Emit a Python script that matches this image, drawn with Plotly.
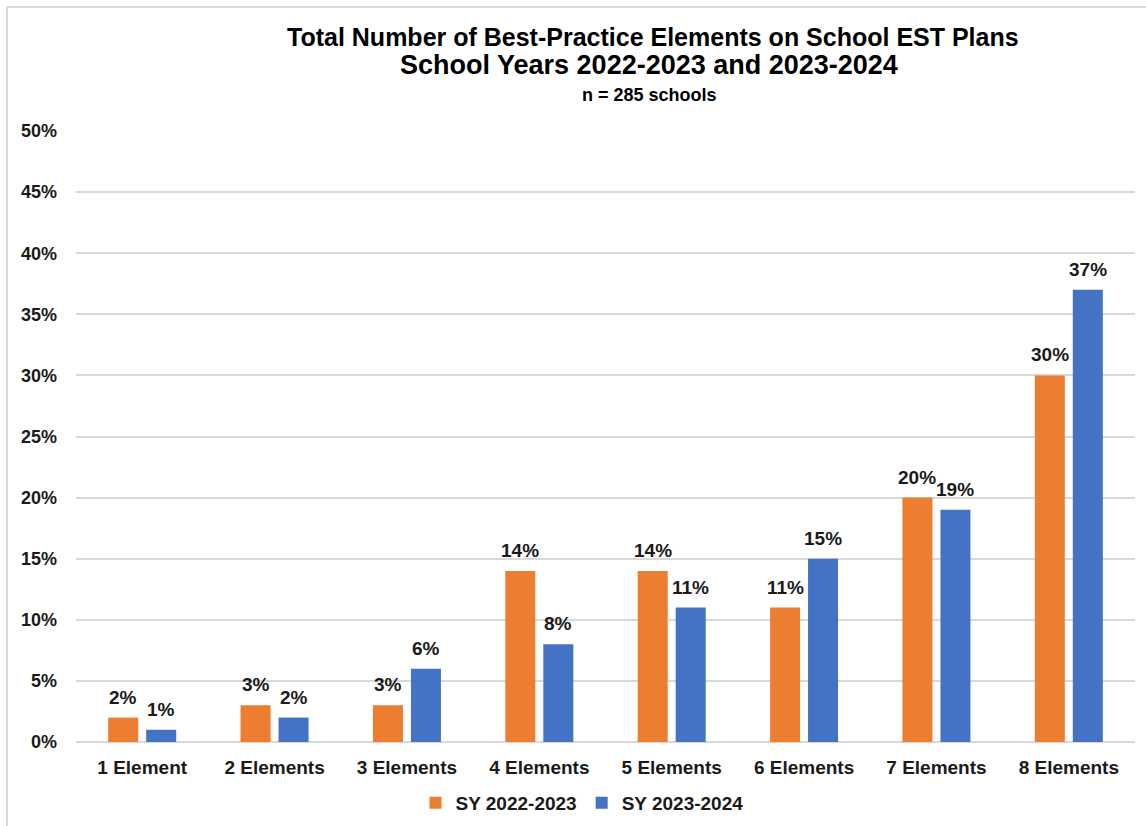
import plotly.graph_objects as go

categories = ["1 Element", "2 Elements", "3 Elements", "4 Elements",
              "5 Elements", "6 Elements", "7 Elements", "8 Elements"]
sy_2022_2023 = [2, 3, 3, 14, 14, 11, 20, 30]
sy_2023_2024 = [1, 2, 6, 8, 11, 15, 19, 37]
series_names = ["SY 2022-2023", "SY 2023-2024"]
y_ticks = [0, 5, 10, 15, 20, 25, 30, 35, 40, 45, 50]

ORANGE = "#ED7D31"
BLUE = "#4472C4"
TEXT = "#1a1a1a"
FONT = "Liberation Sans, Arial, sans-serif"

W, H = 1146, 826
L, R, T, B = 76, 11, 131, 84
PW, PH = W - L - R, H - T - B


def px_x(x):
    return (x - L) / PW


def px_y(y):
    return (H - B - y) / PH


fig = go.Figure()
annotations = []
series = [(series_names[0], sy_2022_2023, ORANGE, -19),
          (series_names[1], sy_2023_2024, BLUE, 19)]
for name, vals, col, shift in series:
    fig.add_trace(go.Bar(
        x=categories, y=vals, name=name,
        marker=dict(color=col, line=dict(width=0)),
        cliponaxis=False,
    ))
    # value labels sitting above each bar
    for cat, v in zip(categories, vals):
        annotations.append(dict(
            x=cat, y=v, xref="x", yref="y", text=f"{v}%",
            xshift=shift, yshift=8, xanchor="center", yanchor="bottom",
            showarrow=False,
            font=dict(family=FONT, size=19, color=TEXT, weight="bold"),
        ))

title_lines = [
    ("Total Number of Best-Practice Elements on School EST Plans", 653, 37, 25),
    ("School Years 2022-2023 and 2023-2024", 649, 65, 27),
    ("n = 285 schools", 649, 95, 18),
]
for txt, xc, yc, sz in title_lines:
    annotations.append(dict(
        text=txt, xref="paper", yref="paper", x=px_x(xc), y=px_y(yc),
        xanchor="center", yanchor="middle", showarrow=False,
        font=dict(family=FONT, size=sz, color="#000000", weight="bold"),
    ))

shapes = [
    dict(type="line", xref="paper", yref="paper", x0=px_x(7), x1=px_x(W),
         y0=px_y(7), y1=px_y(7), line=dict(color="#d9d9d9", width=2)),
    dict(type="line", xref="paper", yref="paper", x0=px_x(7), x1=px_x(7),
         y0=px_y(7), y1=px_y(H), line=dict(color="#d9d9d9", width=2)),
]

fig.update_layout(
    width=W, height=H,
    margin=dict(l=L, r=R, t=T, b=B, pad=0, autoexpand=False),
    paper_bgcolor="white", plot_bgcolor="white",
    barmode="group", bargap=0.426, bargroupgap=0.21,
    font=dict(family=FONT, color=TEXT),
    annotations=annotations, shapes=shapes,
    showlegend=True,
    legend=dict(orientation="h", x=px_x(582), y=px_y(803),
                xanchor="center", yanchor="middle",
                font=dict(family=FONT, size=19, color=TEXT, weight="bold"),
                itemwidth=30, traceorder="normal"),
    xaxis=dict(showgrid=False, showline=False, zeroline=False,
               tickfont=dict(family=FONT, size=19, color=TEXT, weight="bold"),
               ticks="", ticklabelstandoff=12),
    yaxis=dict(range=[0, 50], tickvals=y_ticks,
               ticktext=[f"{v}%" for v in y_ticks],
               showgrid=True, gridcolor="#d9d9d9", gridwidth=2,
               zeroline=True, zerolinecolor="#d9d9d9", zerolinewidth=2,
               showline=False, ticks="", ticklabelstandoff=18,
               tickfont=dict(family=FONT, size=18, color=TEXT, weight="bold")),
)

fig.write_html("out.html")
